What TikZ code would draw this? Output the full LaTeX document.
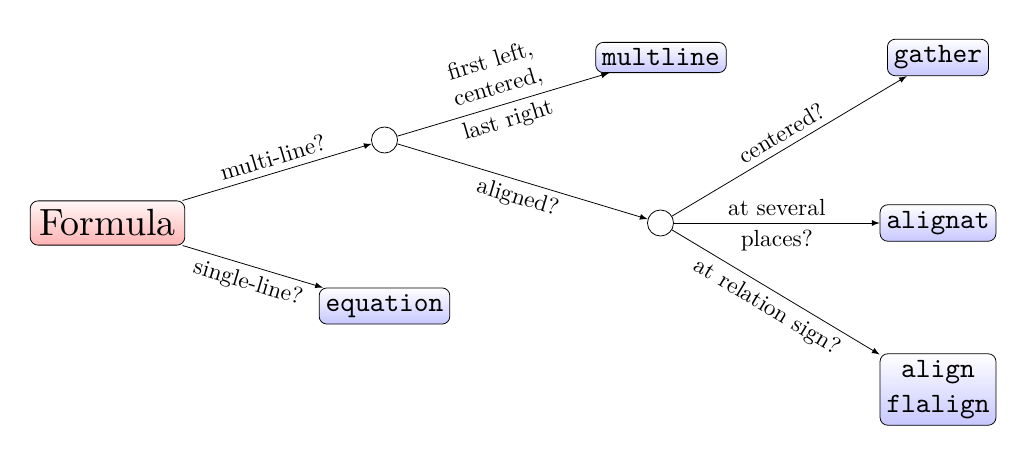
\documentclass[tikz,border=0pt]{standalone}
\usepackage{fontspec}
\setmainfont{lmroman10-regular.otf}
\setmonofont{lmmono10-regular.otf}
\usetikzlibrary{arrows}
\begin{document}
\begin{tikzpicture}[x=0.5141pt,y=-0.5141pt,
  env/.style={draw, rounded corners=4pt, top color=white, bottom color=blue!22,
    font=\Large\ttfamily, align=center, inner sep=.3333em},
  root/.style={draw, rounded corners=4pt, top color=red!3, bottom color=red!30,
    font=\fontsize{19.5}{23}\selectfont, inner xsep=4.6pt, inner ysep=4.5pt},
  choice/.style={draw, circle, minimum size=13.4pt, inner sep=0pt, fill=white},
  arr/.style={-latex},
  lab/.style={font=\large, sloped, align=center}
]
\useasboundingbox (0,0) rectangle (1027,455);
\node[root]   (F)  at (107.5,223) {Formula};
\node[choice] (c1) at (384.5,140) {};
\node[env]    (eq) at (384.5,306) {equation};
\node[env]    (ml) at (661,57.5)  {multline};
\node[choice] (c2) at (660.5,223) {};
\node[env]    (ga) at (938,57.5)  {gather};
\node[env]    (an) at (938,223)   {alignat};
\node[env]    (al) at (938,389.5) {align\\flalign};

\draw[arr] (F) -- node[lab,above] {multi-line?} (c1);
\draw[arr] (F) -- node[lab,below] {single-line?} (eq);
\draw[arr] (c1) -- node[lab,above] {first left,\\centered,} node[lab,below] {last right} (ml);
\draw[arr] (c1) -- node[lab,below] {aligned?} (c2);
\draw[arr] (c2) -- node[lab,above] {centered?} (ga);
\draw[arr] (c2) -- node[lab,above] {at several} node[lab,below] {places?} (an);
\draw[arr] (c2) -- node[lab,below] {at relation sign?} (al);
\end{tikzpicture}
\end{document}
